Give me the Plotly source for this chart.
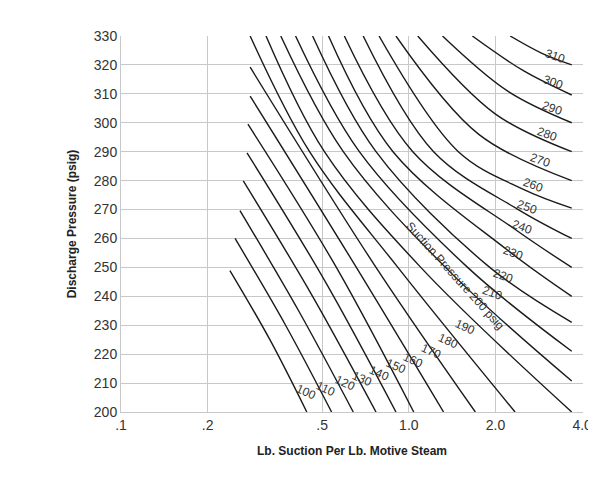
import math
import plotly.graph_objects as go

suction = [100, 110, 120, 130, 140, 150, 160, 170, 180, 190, 200, 210, 220, 230, 240, 250, 260, 270, 280, 290, 300, 310]
curve_x = {
    100: [0.239, 0.329, 0.442],
    110: [0.249, 0.373, 0.539],
    120: [0.259, 0.414, 0.641],
    130: [0.266, 0.463, 0.769],
    140: [0.274, 0.513, 0.902],
    150: [0.276, 0.560, 1.040],
    160: [0.281, 0.657, 1.320],
    170: [0.281, 0.769, 1.702],
    180: [0.281, 0.452, 0.916, 2.339],
    190: [0.319, 0.509, 1.10, 3.68],
    200: [0.359, 0.592, 1.34, 3.68],
    210: [0.404, 0.673, 1.60, 3.68],
    220: [0.463, 0.769, 1.91, 3.68],
    230: [0.526, 0.881, 2.20, 3.68],
    240: [0.597, 1.032, 2.35, 3.68],
    250: [0.694, 1.219, 2.40, 3.68],
    260: [0.788, 1.486, 2.50, 3.68],
    270: [0.902, 1.75, 3.68],
    280: [1.074, 2.00, 3.68],
    290: [1.309, 2.20, 3.68],
    300: [1.662, 2.50, 3.68],
    310: [2.249, 2.90, 3.68],
}
curve_y = {
    100: [248.9, 225, 200],
    110: [260, 230, 200],
    120: [269.6, 235, 200],
    130: [279.9, 240, 200],
    140: [289.6, 245, 200],
    150: [299.5, 250, 200],
    160: [309.2, 250, 200],
    170: [319.2, 250, 200],
    180: [330, 290, 250, 200],
    190: [330, 290, 250, 200],
    200: [330, 290, 250, 210.7],
    210: [330, 290, 250, 221],
    220: [330, 290, 250, 231],
    230: [330, 290, 256, 240],
    240: [330, 290, 263, 250],
    250: [330, 290, 270, 260],
    260: [330, 290, 277, 270.5],
    270: [330, 296, 280],
    280: [330, 303, 290],
    290: [330, 311, 300],
    300: [330, 318, 309.6],
    310: [330, 324, 320],
}
label_x = [0.440, 0.515, 0.600, 0.690, 0.785, 0.900, 1.030, 1.190, 1.370, 1.570, None, 1.948, 2.128, 2.302, 2.472, 2.572, 2.70, 2.85, 3.01, 3.14, 3.16, 3.21]
label_y = [207, 208, 210, 211.5, 213.5, 216, 218, 221, 224.5, 229.5, None, 241, 247, 255, 264, 271, 278.5, 287, 296, 305, 314, 323]
x_ticks = [0.1, 0.2, 0.5, 1.0, 2.0, 4.0]
x_tick_text = [".1", ".2", ".5", "1.0", "2.0", "4.0"]
y_ticks = list(range(200, 331, 10))

FONT = "Liberation Sans, Arial"
fig = go.Figure()
for s in suction:
    fig.add_trace(go.Scatter(x=curve_x[s], y=curve_y[s], mode="lines",
                             line=dict(color="#1a1a1a", width=1.4, shape="spline", smoothing=1.0),
                             showlegend=False, hoverinfo="skip"))

for s, lx, ly in zip(suction, label_x, label_y):
    if lx is None:
        continue
    fig.add_annotation(x=math.log10(lx), y=ly, text=str(s), showarrow=False,
                       textangle=24 if s < 200 else 20,
                       font=dict(family=FONT, size=12, color="#333"))
fig.add_annotation(x=math.log10(1.45), y=247, text="Suction Pressure 200 psig",
                   showarrow=False, textangle=48,
                   font=dict(family=FONT, size=12, color="#333"))

fig.update_xaxes(type="log", range=[-1, 0.605], tickvals=x_ticks, ticktext=x_tick_text,
                 showgrid=True, gridcolor="#c8c8c8", gridwidth=1, zeroline=False,
                 showline=True, linecolor="#c8c8c8", ticks="", automargin=False,
                 tickfont=dict(family=FONT, size=14, color="#333"),
                 title=dict(text="<b>Lb. Suction Per Lb. Motive Steam</b>", standoff=14,
                            font=dict(family=FONT, size=12, color="#222")))
fig.update_yaxes(range=[200, 330], tickvals=y_ticks, showgrid=True, gridcolor="#c8c8c8",
                 zeroline=False, showline=True, linecolor="#c8c8c8", ticks="", automargin=False,
                 tickfont=dict(family=FONT, size=14, color="#333"),
                 title=dict(text="<b>Discharge Pressure (psig)</b>", standoff=14,
                            font=dict(family=FONT, size=12, color="#222")))
fig.update_layout(width=596, height=478, margin=dict(l=113, r=21, t=28, b=74),
                  plot_bgcolor="white", paper_bgcolor="white")
fig.write_html("out.html")
